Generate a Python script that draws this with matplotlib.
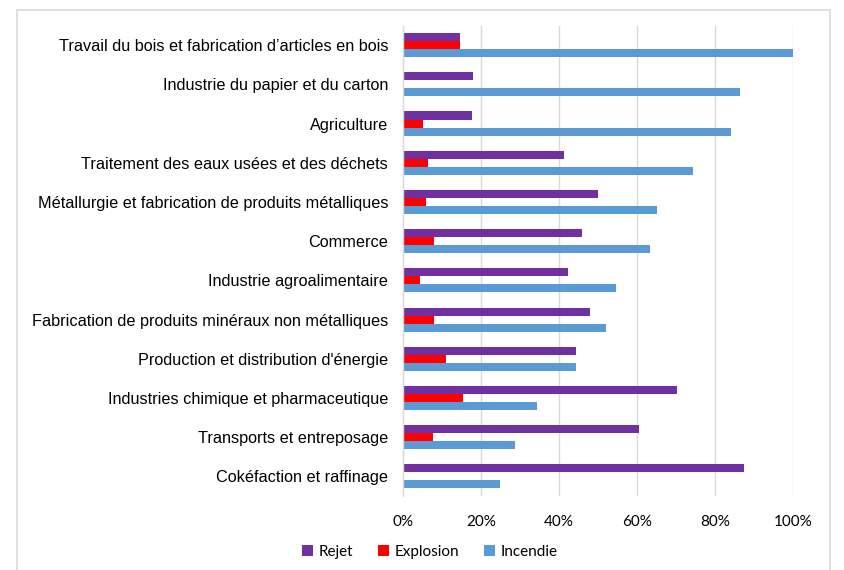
import matplotlib
matplotlib.use("Agg")
import matplotlib.pyplot as plt
import numpy as np
from matplotlib.patches import Rectangle

categories = [
    "Travail du bois et fabrication d’articles en bois",
    "Industrie du papier et du carton",
    "Agriculture",
    "Traitement des eaux usées et des déchets",
    "Métallurgie et fabrication de produits métalliques",
    "Commerce",
    "Industrie agroalimentaire",
    "Fabrication de produits minéraux non métalliques",
    "Production et distribution d'énergie",
    "Industries chimique et pharmaceutique",
    "Transports et entreposage",
    "Cokéfaction et raffinage",
]
rejet = [14.6, 18.1, 17.7, 41.2, 49.9, 45.9, 42.4, 48.0, 44.4, 70.2, 60.5, 87.5]
explosion = [14.6, 0.0, 5.2, 6.4, 6.0, 8.0, 4.5, 7.9, 11.0, 15.4, 7.8, 0.0]
incendie = [100.0, 86.3, 84.0, 74.2, 65.1, 63.4, 54.5, 52.0, 44.4, 34.5, 28.8, 24.9]
series_names = ["Rejet", "Explosion", "Incendie"]
xticks = [0, 20, 40, 60, 80, 100]
xtick_labels = ["0%", "20%", "40%", "60%", "80%", "100%"]

colors = ["#7030A0", "#FF0000", "#5B9BD5"]

fig = plt.figure(figsize=(8.45, 5.70), dpi=100)
ax = fig.add_axes([402.7 / 845, 1 - 496 / 570, (793.3 - 402.7) / 845, (496 - 25.5) / 570])

n = len(categories)
y = np.arange(n)
h = 0.205
for i, (vals, name) in enumerate(zip([rejet, explosion, incendie], series_names)):
    ax.barh(y + (i - 1) * h, vals, height=h, color=colors[i], label=name, zorder=3)

ax.set_ylim(n - 0.5, -0.5)
ax.set_xlim(0, 100)
ax.set_xticks(xticks)
ax.set_xticklabels(xtick_labels, fontfamily="Lato", fontsize=11, color="#000000")
ax.set_yticks(y)
ax.set_yticklabels(categories, fontfamily="Liberation Sans", fontsize=11.7)
ax.tick_params(axis="both", length=0)
ax.tick_params(axis="y", pad=10.5)
ax.tick_params(axis="x", pad=14)
ax.grid(axis="x", color="#d9d9d9", linewidth=1.0, zorder=0)
for s in ["top", "right", "bottom"]:
    ax.spines[s].set_visible(False)
ax.spines["left"].set_color("#d9d9d9")
ax.spines["left"].set_linewidth(1.0)
ax.spines["left"].set_zorder(4)

leg = fig.legend(loc="center", bbox_to_anchor=(430 / 845, 1 - 552 / 570), ncol=3,
                 frameon=False, prop={"family": "Lato", "size": 11},
                 handlelength=0.7, handleheight=0.7, handletextpad=0.4, columnspacing=1.6)

fig.patches.append(Rectangle((17 / 845, -0.01), (830 - 17) / 845, 1 - 10 / 570 + 0.01,
                             transform=fig.transFigure, fill=False,
                             edgecolor="#d9d9d9", linewidth=1.2))

fig.savefig("out.png", dpi=100)
